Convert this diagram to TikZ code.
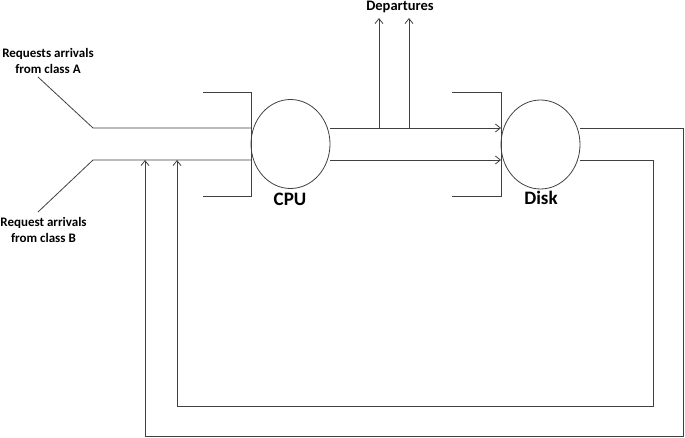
\documentclass[tikz,border=0pt]{standalone}
\usepackage{fontspec}
\setmainfont{Carlito}
\usetikzlibrary{shapes.geometric,arrows.meta}
\begin{document}
\begin{tikzpicture}[x=1pt,y=-1pt,
  ln/.style={draw=black!75, line width=0.8pt},
  arr/.style={ln, -{Straight Barb[length=5pt,width=8pt]}},
  server/.style={ellipse, ln, minimum width=79pt, minimum height=89pt, inner sep=0pt},
  lbl/.style={font=\bfseries\fontsize{13}{15.5}\selectfont, align=center, inner sep=0pt},
  big/.style={font=\bfseries\fontsize{19}{22}\selectfont, inner sep=0pt}]
\useasboundingbox (0,0) rectangle (685,438);
% servers
\node[server] (cpu) at (290.5,144) {};
\node[server] (disk) at (540.5,144.5) {};
\node[big] (cpul) at (290,199) {CPU};
\node[big] (diskl) at (541,198) {Disk};
% labels
\node[lbl] (la) at (48,61) {Requests arrivals\\from class A};
\node[lbl] (lb) at (43.5,230) {Request arrivals\\from class B};
\node[lbl, font=\bfseries\fontsize{14.5}{16}\selectfont, anchor=base] (dep) at (400,10.5) {Departures};
% coordinates
\coordinate (a0) at (38,77);
\coordinate (a1) at (93,128);
\coordinate (a2) at (251,128);
\coordinate (b0) at (38,212);
\coordinate (b1) at (93,160);
\coordinate (b2) at (251,160);
\coordinate (cq1) at (203,92);
\coordinate (cq2) at (251,92);
\coordinate (cq3) at (251,196);
\coordinate (cq4) at (203,196);
\coordinate (dq1) at (452,92);
\coordinate (dq2) at (501,92);
\coordinate (dq3) at (501,196);
\coordinate (dq4) at (452,196);
\coordinate (c1) at (330,128);
\coordinate (c2) at (330,160);
\coordinate (d1) at (501,128);
\coordinate (d2) at (501,160);
\coordinate (dp1) at (379,128);
\coordinate (dp1t) at (379,18);
\coordinate (dp2) at (409,128);
\coordinate (dp2t) at (409,18);
\coordinate (e1) at (580,128);
\coordinate (e2) at (580,160);
\coordinate (o1) at (683,128);
\coordinate (o2) at (683,436);
\coordinate (o3) at (145,436);
\coordinate (o4) at (145,160);
\coordinate (i1) at (653,160);
\coordinate (i2) at (653,406);
\coordinate (i3) at (177,406);
\coordinate (i4) at (177,160);
% queue of CPU
\draw[ln] (a0) -- (a1) -- (a2);
\draw[ln] (b0) -- (b1) -- (b2);
\draw[ln] (cq1) -- (cq2) -- (cq3) -- (cq4);
% CPU to disk
\draw[arr] (c1) -- (d1);
\draw[arr] (c2) -- (d2);
\draw[ln] (dq1) -- (dq2) -- (dq3) -- (dq4);
% departures
\draw[arr] (dp1) -- (dp1t);
\draw[arr] (dp2) -- (dp2t);
% feedback loops
\draw[arr] (e1) -- (o1) -- (o2) -- (o3) -- (o4);
\draw[arr] (e2) -- (i1) -- (i2) -- (i3) -- (i4);
\end{tikzpicture}
\end{document}
